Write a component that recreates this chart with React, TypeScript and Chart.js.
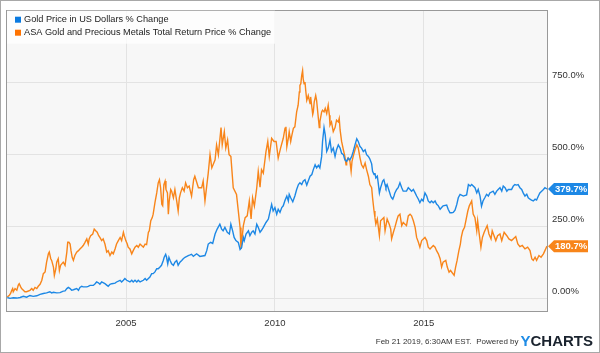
import React, { useEffect, useRef } from 'react';
import { Chart, registerables } from 'chart.js';
Chart.register(...registerables);

// [decimal year, % change]
const goldPoints: [number, number][] = [
[2001.01,2],[2001.10,-1],[2001.21,1],[2001.33,0],[2001.44,2],[2001.55,6],[2001.66,3],[2001.77,9],[2001.88,6],[2002.00,8],[2002.11,13],[2002.22,16],[2002.33,18],[2002.44,22],[2002.50,18],[2002.56,20],[2002.67,18],[2002.78,19],[2002.89,24],[2002.95,25],[2003.01,33],[2003.06,37],[2003.12,33],[2003.17,27],[2003.23,29],[2003.34,33],[2003.40,27],[2003.45,37],[2003.51,41],[2003.56,39],[2003.68,39],[2003.73,41],[2003.79,44],[2003.90,44],[2003.96,50],[2004.01,56],[2004.07,53],[2004.12,48],[2004.18,56],[2004.29,50],[2004.35,45],[2004.40,41],[2004.46,48],[2004.52,50],[2004.63,52],[2004.68,56],[2004.80,62],[2004.85,56],[2004.91,62],[2004.96,68],[2005.02,62],[2005.13,56],[2005.19,62],[2005.24,56],[2005.30,62],[2005.36,56],[2005.41,62],[2005.47,56],[2005.58,62],[2005.64,68],[2005.69,62],[2005.75,68],[2005.80,73],[2005.86,85],[2005.91,85],[2005.97,91],[2006.03,102],[2006.08,102],[2006.14,108],[2006.19,114],[2006.25,131],[2006.28,142],[2006.33,152],[2006.36,142],[2006.40,119],[2006.44,142],[2006.48,131],[2006.53,119],[2006.59,114],[2006.64,125],[2006.70,131],[2006.75,114],[2006.81,125],[2006.87,131],[2006.92,137],[2006.98,142],[2007.04,145],[2007.09,148],[2007.15,150],[2007.20,152],[2007.26,145],[2007.37,154],[2007.48,145],[2007.65,148],[2007.71,165],[2007.76,188],[2007.84,194],[2007.91,190],[2007.99,223],[2008.06,240],[2008.15,257],[2008.21,240],[2008.26,234],[2008.32,246],[2008.40,229],[2008.47,223],[2008.52,257],[2008.58,234],[2008.63,211],[2008.69,200],[2008.77,194],[2008.83,169],[2008.88,175],[2008.94,211],[2008.97,200],[2009.03,223],[2009.11,234],[2009.16,217],[2009.22,229],[2009.27,234],[2009.33,223],[2009.39,257],[2009.44,246],[2009.50,229],[2009.55,236],[2009.61,246],[2009.70,263],[2009.78,275],[2009.83,298],[2009.89,326],[2009.94,303],[2010.00,315],[2010.06,292],[2010.11,309],[2010.17,298],[2010.23,315],[2010.28,321],[2010.34,340],[2010.40,355],[2010.45,338],[2010.48,361],[2010.53,349],[2010.60,335],[2010.67,355],[2010.73,378],[2010.79,395],[2010.84,401],[2010.90,395],[2010.95,407],[2011.01,412],[2011.07,393],[2011.12,407],[2011.18,424],[2011.24,430],[2011.29,447],[2011.35,464],[2011.40,453],[2011.46,462],[2011.51,453],[2011.57,493],[2011.60,545],[2011.65,593],[2011.69,568],[2011.74,510],[2011.79,522],[2011.85,550],[2011.90,510],[2011.96,522],[2012.02,493],[2012.07,516],[2012.13,533],[2012.19,522],[2012.24,504],[2012.30,499],[2012.35,481],[2012.41,476],[2012.46,487],[2012.52,481],[2012.58,493],[2012.63,510],[2012.69,533],[2012.75,554],[2012.80,545],[2012.86,527],[2012.91,522],[2012.97,510],[2013.03,516],[2013.08,499],[2013.14,493],[2013.19,484],[2013.25,467],[2013.28,441],[2013.33,430],[2013.36,435],[2013.39,418],[2013.44,424],[2013.47,401],[2013.51,366],[2013.55,384],[2013.62,407],[2013.66,412],[2013.70,395],[2013.73,384],[2013.77,395],[2013.84,372],[2013.89,355],[2013.92,349],[2013.96,344],[2014.00,355],[2014.03,366],[2014.09,378],[2014.14,384],[2014.20,401],[2014.26,384],[2014.31,372],[2014.42,372],[2014.48,384],[2014.54,378],[2014.59,372],[2014.65,378],[2014.71,366],[2014.76,355],[2014.82,344],[2014.87,332],[2014.93,344],[2014.98,338],[2015.04,366],[2015.10,355],[2015.15,338],[2015.21,332],[2015.26,338],[2015.32,332],[2015.38,338],[2015.43,327],[2015.49,321],[2015.55,309],[2015.60,315],[2015.65,321],[2015.77,324],[2015.82,309],[2015.88,297],[2015.94,297],[2015.99,298],[2016.05,306],[2016.11,326],[2016.16,349],[2016.22,361],[2016.33,355],[2016.44,359],[2016.50,395],[2016.56,390],[2016.61,395],[2016.72,384],[2016.78,366],[2016.83,378],[2016.89,355],[2016.94,320],[2016.99,338],[2017.05,349],[2017.11,361],[2017.17,355],[2017.22,366],[2017.33,372],[2017.39,361],[2017.45,372],[2017.50,378],[2017.56,384],[2017.62,372],[2017.67,390],[2017.73,384],[2017.79,372],[2017.84,378],[2017.95,378],[2018.01,390],[2018.06,395],[2018.12,393],[2018.17,395],[2018.23,384],[2018.29,378],[2018.34,366],[2018.40,355],[2018.46,361],[2018.51,349],[2018.57,344],[2018.62,341],[2018.68,338],[2018.74,344],[2018.79,341],[2018.85,355],[2018.90,366],[2018.96,372],[2019.02,378],[2019.07,384],[2019.14,379.7]
];

const asaPoints: [number, number][] = [
[2001.01,4],[2001.08,10],[2001.12,16],[2001.16,27],[2001.19,33],[2001.21,22],[2001.27,33],[2001.33,27],[2001.38,45],[2001.41,50],[2001.46,39],[2001.49,33],[2001.55,27],[2001.60,22],[2001.66,22],[2001.77,27],[2001.83,33],[2001.88,27],[2001.94,37],[2002.00,33],[2002.05,41],[2002.11,48],[2002.17,62],[2002.22,85],[2002.28,91],[2002.33,125],[2002.39,154],[2002.42,160],[2002.47,137],[2002.50,131],[2002.56,108],[2002.59,79],[2002.64,102],[2002.67,125],[2002.72,137],[2002.76,96],[2002.80,114],[2002.84,119],[2002.89,125],[2002.95,114],[2003.01,160],[2003.04,194],[2003.08,194],[2003.12,188],[2003.15,165],[2003.19,142],[2003.23,131],[2003.28,148],[2003.34,160],[2003.40,165],[2003.45,171],[2003.51,177],[2003.56,183],[2003.62,194],[2003.68,206],[2003.73,188],[2003.76,206],[2003.81,217],[2003.88,223],[2003.93,240],[2003.98,234],[2004.03,229],[2004.08,217],[2004.12,211],[2004.18,200],[2004.23,206],[2004.29,188],[2004.35,160],[2004.40,165],[2004.46,148],[2004.52,160],[2004.57,154],[2004.63,171],[2004.68,188],[2004.74,200],[2004.80,211],[2004.85,200],[2004.91,229],[2004.94,217],[2004.99,200],[2005.04,188],[2005.07,177],[2005.13,171],[2005.19,154],[2005.24,165],[2005.30,177],[2005.36,183],[2005.41,177],[2005.47,188],[2005.52,183],[2005.58,177],[2005.64,188],[2005.69,186],[2005.75,229],[2005.78,234],[2005.83,269],[2005.88,280],[2005.91,292],[2005.97,332],[2006.03,366],[2006.08,401],[2006.12,412],[2006.16,384],[2006.20,326],[2006.23,321],[2006.27,395],[2006.31,407],[2006.34,378],[2006.39,366],[2006.42,292],[2006.45,338],[2006.50,378],[2006.53,372],[2006.59,349],[2006.64,378],[2006.70,338],[2006.75,303],[2006.79,349],[2006.83,366],[2006.89,384],[2006.95,372],[2007.00,401],[2007.06,384],[2007.12,390],[2007.20,355],[2007.27,412],[2007.31,424],[2007.43,384],[2007.54,384],[2007.59,407],[2007.65,338],[2007.76,435],[2007.82,499],[2007.88,453],[2007.99,481],[2008.04,533],[2008.10,499],[2008.19,593],[2008.23,533],[2008.30,579],[2008.35,522],[2008.41,550],[2008.46,499],[2008.52,493],[2008.60,384],[2008.71,361],[2008.83,246],[2008.86,171],[2008.94,252],[2009.00,280],[2009.07,286],[2009.14,338],[2009.20,275],[2009.25,349],[2009.31,320],[2009.39,384],[2009.44,441],[2009.50,386],[2009.55,447],[2009.61,435],[2009.70,510],[2009.76,545],[2009.81,493],[2009.89,556],[2009.97,545],[2010.04,545],[2010.11,487],[2010.19,522],[2010.28,556],[2010.34,591],[2010.37,596],[2010.40,527],[2010.45,556],[2010.48,579],[2010.53,545],[2010.56,562],[2010.62,591],[2010.67,596],[2010.73,648],[2010.78,671],[2010.82,717],[2010.84,740],[2010.87,746],[2010.90,775],[2010.93,792],[2010.95,763],[2010.98,746],[2011.01,752],[2011.04,717],[2011.07,688],[2011.12,705],[2011.18,677],[2011.20,700],[2011.24,665],[2011.27,639],[2011.29,648],[2011.32,682],[2011.37,705],[2011.40,688],[2011.46,625],[2011.49,593],[2011.51,613],[2011.57,648],[2011.60,654],[2011.65,648],[2011.69,660],[2011.74,642],[2011.79,671],[2011.83,636],[2011.85,602],[2011.90,613],[2011.96,579],[2012.02,593],[2012.07,619],[2012.13,613],[2012.16,625],[2012.19,585],[2012.24,545],[2012.30,516],[2012.35,493],[2012.39,464],[2012.41,476],[2012.46,487],[2012.52,476],[2012.56,441],[2012.59,476],[2012.63,493],[2012.69,516],[2012.75,533],[2012.80,522],[2012.86,487],[2012.91,464],[2012.97,453],[2013.03,470],[2013.08,447],[2013.14,424],[2013.19,395],[2013.25,384],[2013.28,349],[2013.33,303],[2013.36,280],[2013.39,257],[2013.44,275],[2013.51,217],[2013.55,269],[2013.66,280],[2013.70,234],[2013.77,275],[2013.84,257],[2013.89,240],[2013.92,206],[2013.98,229],[2014.03,246],[2014.09,269],[2014.14,286],[2014.20,292],[2014.26,252],[2014.31,263],[2014.42,252],[2014.48,286],[2014.54,292],[2014.59,286],[2014.65,269],[2014.71,246],[2014.76,211],[2014.82,194],[2014.87,177],[2014.93,200],[2015.04,211],[2015.10,200],[2015.15,177],[2015.21,171],[2015.32,183],[2015.38,177],[2015.43,165],[2015.49,154],[2015.55,137],[2015.60,108],[2015.65,125],[2015.74,131],[2015.79,108],[2015.85,90],[2015.90,96],[2016.02,79],[2016.07,108],[2016.12,131],[2016.18,165],[2016.23,188],[2016.26,211],[2016.31,234],[2016.37,246],[2016.48,303],[2016.53,321],[2016.61,338],[2016.66,292],[2016.72,280],[2016.78,234],[2016.81,269],[2016.85,234],[2016.92,177],[2016.97,211],[2017.03,229],[2017.13,252],[2017.19,223],[2017.26,206],[2017.30,234],[2017.42,200],[2017.48,217],[2017.56,223],[2017.62,200],[2017.70,229],[2017.79,217],[2017.86,206],[2017.95,200],[2018.09,214],[2018.16,188],[2018.23,179],[2018.31,183],[2018.40,171],[2018.49,177],[2018.57,165],[2018.63,136],[2018.68,131],[2018.74,142],[2018.79,131],[2018.87,148],[2018.94,142],[2019.02,154],[2019.07,165],[2019.14,180.7]
];

const seriesNames = ['Gold Price in US Dollars % Change', 'ASA Gold and Precious Metals Total Return Price % Change'];
const xTickYears = [2005, 2010, 2015];
const yTickValues = [0, 250, 500, 750];
const footerText = 'Feb 21 2019, 6:30AM EST.  Powered by';

const BLUE = '#1d88e5';
const ORANGE = '#f8851a';
const FONT = '"Liberation Sans", Arial, sans-serif';

export default function App() {
  const ref = useRef<HTMLCanvasElement>(null);
  useEffect(() => {
    document.body.style.margin = '0';
    const canvas = ref.current!;
    const deco = {
      id: 'deco',
      beforeDraw(c: any) {
        const ctx = c.ctx, a = c.chartArea;
        ctx.save();
        ctx.fillStyle = '#ffffff';
        ctx.fillRect(0, 0, c.width, c.height);
        ctx.fillStyle = '#f7f7f7';
        ctx.fillRect(a.left, a.top, a.right - a.left, a.bottom - a.top);
        ctx.restore();
      },
      afterDraw(c: any) {
        const ctx = c.ctx, a = c.chartArea;
        ctx.save();
        // plot border
        ctx.strokeStyle = '#999999';
        ctx.lineWidth = 1;
        ctx.strokeRect(Math.round(a.left) - 0.5, Math.round(a.top) - 0.5, Math.round(a.right - a.left) + 1, Math.round(a.bottom - a.top) + 1);
        // outer frame
        ctx.strokeStyle = '#a8a8a8';
        ctx.strokeRect(0.5, 0.5, c.width - 1, c.height - 1);
        // legend
        ctx.fillStyle = 'rgba(255,255,255,0.75)';
        ctx.fillRect(a.left, a.top, 268, 33);
        ctx.font = '9.2px ' + FONT;
        ctx.textBaseline = 'middle';
        ctx.textAlign = 'left';
        const cols = ['#0a7ae0', '#ff7300'];
        seriesNames.forEach((n, i) => {
          const cy = a.top + 9 + i * 13;
          ctx.fillStyle = cols[i];
          ctx.fillRect(a.left + 8, cy - 3, 6, 6);
          ctx.fillStyle = '#222';
          ctx.fillText(n, a.left + 17, cy);
        });
        // end tags
        const ys = c.scales.y;
        const tags: [number, string][] = [
          [goldPoints[goldPoints.length - 1][1], BLUE],
          [asaPoints[asaPoints.length - 1][1], ORANGE],
        ];
        tags.forEach(([v, col]) => {
          const cy = ys.getPixelForValue(v);
          const x0 = a.right + 1;
          ctx.fillStyle = col;
          ctx.beginPath();
          ctx.moveTo(x0, cy);
          ctx.lineTo(x0 + 6, cy - 6);
          ctx.lineTo(x0 + 40, cy - 6);
          ctx.lineTo(x0 + 40, cy + 6);
          ctx.lineTo(x0 + 6, cy + 6);
          ctx.closePath();
          ctx.fill();
          ctx.fillStyle = '#fff';
          ctx.font = 'bold 9.5px ' + FONT;
          ctx.textAlign = 'left';
          ctx.fillText(v.toFixed(1) + '%', x0 + 7, cy + 0.5);
        });
        // footer
        ctx.textBaseline = 'alphabetic';
        ctx.font = 'bold 15px ' + FONT;
        const w = ctx.measureText('CHARTS').width;
        const wy = ctx.measureText('Y').width;
        const right = 593;
        ctx.fillStyle = '#1a232e';
        ctx.textAlign = 'left';
        ctx.fillText('CHARTS', right - w, 346);
        ctx.fillStyle = '#1f8ce6';
        ctx.fillText('Y', right - w - wy, 346);
        ctx.fillStyle = '#333';
        ctx.font = '8px ' + FONT;
        ctx.textAlign = 'right';
        ctx.fillText(footerText, right - w - wy - 2, 344);
        ctx.restore();
      },
    };
    const tickFont = { family: FONT, size: 9.5 };
    const chart = new Chart(canvas, {
      type: 'line',
      data: {
        datasets: [
          { label: seriesNames[0], data: goldPoints.map(([x, y]) => ({ x, y })), borderColor: BLUE, borderWidth: 1.4, pointRadius: 0, tension: 0, fill: false },
          { label: seriesNames[1], data: asaPoints.map(([x, y]) => ({ x, y })), borderColor: ORANGE, borderWidth: 1.4, pointRadius: 0, tension: 0, fill: false },
        ],
      },
      options: {
        animation: false,
        responsive: false,
        layout: { padding: { left: 7, top: 8, right: 0, bottom: 0 } },
        plugins: { legend: { display: false }, tooltip: { enabled: false } },
        scales: {
          x: {
            type: 'linear', min: 2001, max: 2019.14,
            grid: { color: '#e3e3e3', drawTicks: false },
            border: { display: false },
            afterBuildTicks: (s: any) => { s.ticks = xTickYears.map(v => ({ value: v })); },
            afterFit: (s: any) => { s.height = 42; },
            ticks: { padding: 7, color: '#333', font: tickFont, maxRotation: 0, autoSkip: false, callback: (v: any) => String(v) },
          },
          y: {
            type: 'linear', position: 'right', min: -45, max: 1000,
            grid: { color: '#e3e3e3', drawTicks: false },
            border: { display: false },
            afterBuildTicks: (s: any) => { s.ticks = yTickValues.map(v => ({ value: v })); },
            afterFit: (s: any) => { s.width = 53; },
            ticks: { padding: 5, labelOffset: -7, color: '#333', font: tickFont, callback: (v: any) => (v === 0 ? '0.00%' : Number(v).toFixed(1) + '%') },
          },
        },
      },
      plugins: [deco],
    } as any);
    return () => chart.destroy();
  }, []);
  return (
    <div style={{ width: 600, height: 353 }}>
      <canvas ref={ref} width={600} height={353} style={{ display: 'block' }} />
    </div>
  );
}
